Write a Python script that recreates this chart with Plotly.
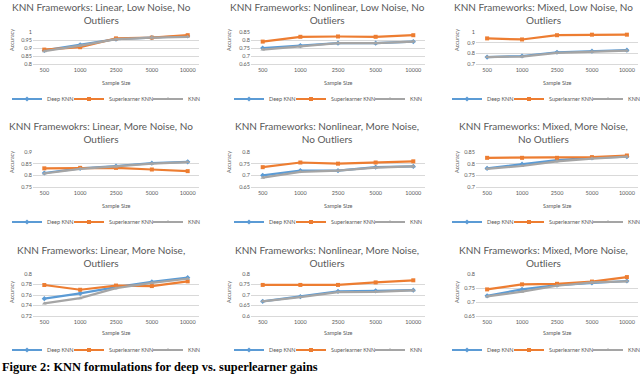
import plotly.graph_objects as go

sample_sizes = ["500", "1000", "2500", "5000", "10000"]
series_names = ["Deep KNN", "Superlearner KNN", "KNN"]

titles = [
    "KNN Frameworks: Linear, Low Noise, No<br>Outliers",
    "KNN Frameworks: Nonlinear, Low Noise, No<br>Outliers",
    "KNN Frameworks: Mixed, Low Noise, No<br>Outliers",
    "KNN Framewokrs: Linear, More Noise, No<br>Outliers",
    "KNN Frameworks: Nonlinear, More Noise,<br>No Outliers",
    "KNN Frameworks: Mixed, More Noise,<br>No Outliers",
    "KNN Frameworks: Linear, More Noise,<br>Outliers",
    "KNN Frameworks: Nonlinear, More Noise,<br>Outliers",
    "KNN Frameworks: Mixed, More Noise,<br>Outliers",
]

# panel 1: Linear, Low Noise, No Outliers
deep_1 = [0.885, 0.920, 0.955, 0.965, 0.975]
super_1 = [0.890, 0.905, 0.960, 0.965, 0.980]
knn_1 = [0.880, 0.915, 0.955, 0.965, 0.970]
# panel 2: Nonlinear, Low Noise, No Outliers
deep_2 = [0.750, 0.765, 0.780, 0.780, 0.790]
super_2 = [0.790, 0.820, 0.822, 0.820, 0.830]
knn_2 = [0.740, 0.760, 0.780, 0.780, 0.790]
# panel 3: Mixed, Low Noise, No Outliers
deep_3 = [0.765, 0.775, 0.810, 0.820, 0.830]
super_3 = [0.940, 0.930, 0.970, 0.975, 0.975]
knn_3 = [0.765, 0.770, 0.805, 0.815, 0.825]
# panel 4: Linear, More Noise, No Outliers
deep_4 = [0.810, 0.830, 0.840, 0.852, 0.858]
super_4 = [0.830, 0.832, 0.832, 0.825, 0.818]
knn_4 = [0.808, 0.828, 0.838, 0.850, 0.857]
# panel 5: Nonlinear, More Noise, No Outliers
deep_5 = [0.700, 0.720, 0.720, 0.735, 0.738]
super_5 = [0.735, 0.755, 0.750, 0.755, 0.760]
knn_5 = [0.690, 0.715, 0.720, 0.733, 0.738]
# panel 6: Mixed, More Noise, No Outliers
deep_6 = [0.780, 0.798, 0.815, 0.825, 0.830]
super_6 = [0.825, 0.825, 0.825, 0.828, 0.835]
knn_6 = [0.778, 0.790, 0.810, 0.822, 0.830]
# panel 7: Linear, More Noise, Outliers
deep_7 = [0.753, 0.763, 0.775, 0.785, 0.793]
super_7 = [0.779, 0.770, 0.778, 0.777, 0.786]
knn_7 = [0.744, 0.754, 0.773, 0.783, 0.791]
# panel 8: Nonlinear, More Noise, Outliers
deep_8 = [0.670, 0.692, 0.717, 0.720, 0.723]
super_8 = [0.748, 0.748, 0.748, 0.760, 0.770]
knn_8 = [0.670, 0.690, 0.714, 0.715, 0.722]
# panel 9: Mixed, More Noise, Outliers
deep_9 = [0.722, 0.745, 0.760, 0.768, 0.775]
super_9 = [0.745, 0.763, 0.765, 0.773, 0.789]
knn_9 = [0.720, 0.737, 0.758, 0.770, 0.774]

y_ranges = [(0.8, 1.0), (0.65, 0.85), (0.7, 1.0),
            (0.75, 0.9), (0.65, 0.8), (0.7, 0.85),
            (0.72, 0.8), (0.6, 0.8), (0.65, 0.8)]
y_dticks = [0.05, 0.05, 0.1, 0.05, 0.05, 0.05, 0.02, 0.05, 0.05]

caption = "Figure 2: KNN formulations for deep vs. superlearner gains"

panels = [
    (deep_1, super_1, knn_1), (deep_2, super_2, knn_2), (deep_3, super_3, knn_3),
    (deep_4, super_4, knn_4), (deep_5, super_5, knn_5), (deep_6, super_6, knn_6),
    (deep_7, super_7, knn_7), (deep_8, super_8, knn_8), (deep_9, super_9, knn_9),
]

colors = ["#5B9BD5", "#ED7D31", "#A5A5A5"]
symbols = ["diamond", "square", "triangle-up"]

W, H = 640, 380
cols_x = [(33, 199), (251, 425), (476, 638)]
rows_y = [(32, 64), (152, 187), (274, 316)]
title_y = [13.5, 132, 256]
title_x = [101, 327, 543]
xlabel_y = [83, 206, 333]
legend_y = [99, 222, 350]
legend_L = [12, 234, 452]           # where each panel's legend key starts
legend_item_dx = [0, 62, 141]       # offset of each legend entry within the key
acc_x = [12, 229, 457]
acc_y = [40, 162, 292]

TXT = "#595959"
FONT = "Lato"

fig = go.Figure()
annotations = []
layout_extra = {}

leg_n = 0
for i, (d, s, k) in enumerate(panels):
    r, c = divmod(i, 3)
    n = i + 1
    xa = "x" if n == 1 else f"x{n}"
    ya = "y" if n == 1 else f"y{n}"
    for j, vals in enumerate((d, s, k)):
        leg_n += 1
        lg = "legend" if leg_n == 1 else f"legend{leg_n}"
        fig.add_trace(go.Scatter(
            x=sample_sizes, y=vals, name=series_names[j], mode="lines+markers",
            line=dict(color=colors[j], width=2.2),
            marker=dict(symbol=symbols[j], size=4, color=colors[j]),
            xaxis=xa, yaxis=ya, legend=lg, showlegend=True,
        ))
        layout_extra[lg] = dict(
            orientation="h", x=(legend_L[c] - 5 + legend_item_dx[j]) / W, xanchor="left",
            y=1 - legend_y[r] / H, yanchor="middle",
            font=dict(size=5.5, color=TXT, family=FONT), bgcolor="rgba(0,0,0,0)",
            itemwidth=30, tracegroupgap=0, visible=True,
        )
    x0, x1 = cols_x[c]
    y0, y1 = rows_y[r]
    xkey = "xaxis" if n == 1 else f"xaxis{n}"
    ykey = "yaxis" if n == 1 else f"yaxis{n}"
    layout_extra[xkey] = dict(
        domain=[x0 / W, x1 / W], anchor=ya, type="category",
        showgrid=False, showline=True, linecolor="#D9D9D9", linewidth=1,
        ticks="", ticklen=0, tickfont=dict(size=5.5, color=TXT, family=FONT), fixedrange=True,
    )
    layout_extra[ykey] = dict(
        domain=[1 - y1 / H, 1 - y0 / H], anchor=xa,
        range=list(y_ranges[i]), dtick=y_dticks[i], tick0=0,
        showgrid=True, gridcolor="#D9D9D9", gridwidth=1, zeroline=False,
        showline=False, ticks="", tickfont=dict(size=5.5, color=TXT, family=FONT),
    )
    annotations.append(dict(
        text=titles[i], x=title_x[c] / W, y=1 - title_y[r] / H, xref="paper", yref="paper",
        showarrow=False, xanchor="center", yanchor="middle",
        font=dict(size=10, color=TXT, family=FONT),
    ))
    annotations.append(dict(
        text="Sample Size", x=(x0 + x1) / 2 / W, y=1 - xlabel_y[r] / H, xref="paper", yref="paper",
        showarrow=False, xanchor="center", yanchor="middle",
        font=dict(size=5.5, color=TXT, family=FONT),
    ))
    annotations.append(dict(
        text="Accuracy", x=acc_x[c] / W, y=1 - acc_y[r] / H, xref="paper", yref="paper",
        showarrow=False, xanchor="center", yanchor="middle", textangle=-90,
        font=dict(size=5.5, color=TXT, family=FONT),
    ))

annotations.append(dict(
    text="<b>" + caption + "</b>", x=0, y=1 - 367 / H, xref="paper", yref="paper",
    showarrow=False, xanchor="left", yanchor="middle",
    font=dict(size=12.4, color="black", family="Liberation Serif"),
))

fig.update_layout(
    width=W, height=H, margin=dict(l=0, r=0, t=0, b=0, autoexpand=False),
    paper_bgcolor="white", plot_bgcolor="white", showlegend=True,
    annotations=annotations, **layout_extra,
)

fig.write_html("out.html", config={"displayModeBar": False},
               post_script="document.body.style.margin='0px';")
